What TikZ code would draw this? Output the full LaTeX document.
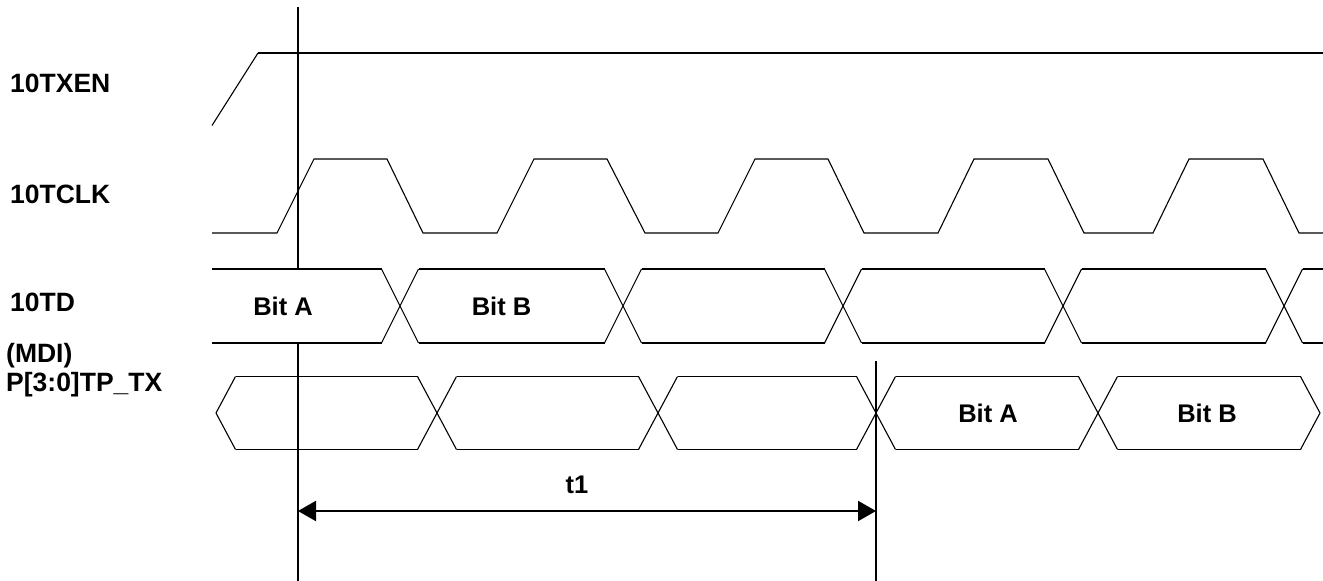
\documentclass[tikz,border=0pt]{standalone}
\usepackage{fontspec}
\setmainfont{Liberation Sans}
\usetikzlibrary{arrows.meta}
\begin{document}
\begin{tikzpicture}[x=1pt,y=-1pt,
  lbl/.style={font=\fontsize{26.5}{29}\selectfont\bfseries, inner sep=0pt},
  bitlbl/.style={font=\fontsize{25.5}{29}\selectfont\bfseries, inner sep=0pt},
  wave/.style={line width=1.1pt, line join=miter},
  bus/.style={line width=2pt},
  marker/.style={line width=2pt},
  dim/.style={line width=2pt, {Triangle[length=18pt,width=20pt]}-{Triangle[length=18pt,width=20pt]}},
]
\useasboundingbox (0,0) rectangle (1323,581);

% signal names
\node[lbl, anchor=west] (txen) at (10,83.5) {10TXEN};
\node[lbl, anchor=west] (tclk) at (10,194.5) {10TCLK};
\node[lbl, anchor=west] (td) at (10,302.5) {10TD};
\node[lbl, anchor=west, align=left] (mdi) at (6,370) {(MDI)\\P[3:0]TP\_TX};

% 10TXEN
\draw[wave] (212,125.5) -- (258,53);
\draw[bus] (258,53) -- (1323,53);

% 10TCLK
\draw[wave] (212,233) -- (277,233) -- (314,159) -- (387,159) -- (423,233)
  -- (497,233) -- (534,159) -- (607,159) -- (645,233)
  -- (718,233) -- (755,159) -- (828,159) -- (864,233)
  -- (938,233) -- (974,159) -- (1048,159) -- (1084,233)
  -- (1153,233) -- (1189,159) -- (1263,159) -- (1299,233) -- (1323,233);

% 10TD bus
\foreach \xa/\xb in {212/381.5, 418.5/604.5, 641.5/824.5, 861.5/1044.5, 1081.5/1265.5, 1302.5/1323}{
  \draw[bus] (\xa,269) -- (\xb,269);
  \draw[bus] (\xa,343) -- (\xb,343);
}
\foreach \xc in {400,623,843,1063,1284}{
  \draw[wave] (\xc-18.5,269) -- (\xc+18.5,343);
  \draw[wave] (\xc-18.5,343) -- (\xc+18.5,269);
}
\node[bitlbl] (tda) at (283,306) {Bit A};
\node[bitlbl] (tdb) at (501.5,306) {Bit B};

% MDI bus
\draw[wave] (235.5,376.5) -- (216,413) -- (235.5,449.5);
\draw[wave] (1300.5,376.5) -- (1320,413) -- (1300.5,449.5);
\foreach \xa/\xb in {235.5/417.5, 456.5/638.5, 677.5/856.5, 895.5/1078.5, 1117.5/1300.5}{
  \draw[wave] (\xa,376.5) -- (\xb,376.5);
  \draw[wave] (\xa,449.5) -- (\xb,449.5);
}
\foreach \xc in {437,658,876,1098}{
  \draw[wave] (\xc-19.5,376.5) -- (\xc+19.5,449.5);
  \draw[wave] (\xc-19.5,449.5) -- (\xc+19.5,376.5);
}
\node[bitlbl] (mda) at (988,413.5) {Bit A};
\node[bitlbl] (mdb) at (1207,413.5) {Bit B};

% reference markers
\coordinate (m1top) at (298,7);
\coordinate (m1a) at (298,269);
\coordinate (m1b) at (298,343);
\coordinate (m1bot) at (298,581);
\coordinate (m2top) at (876,361);
\coordinate (m2bot) at (876,581);
\draw[marker] (m1top) -- (m1a);
\draw[marker] (m1b) -- (m1bot);
\draw[marker] (m2top) -- (m2bot);

% t1 dimension
\coordinate (d1) at (298,511);
\coordinate (d2) at (876,511);
\draw[dim] (d1) -- (d2);
\node[bitlbl] (t1) at (577,485) {t1};
\end{tikzpicture}
\end{document}
